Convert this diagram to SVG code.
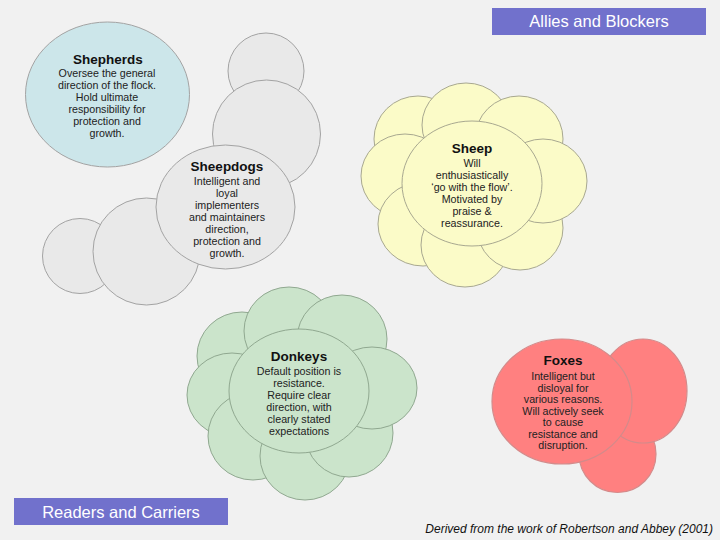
<svg xmlns="http://www.w3.org/2000/svg" width="720" height="540" viewBox="0 0 720 540">
<style>
.bg{fill:#f1f1f1}
.gray{fill:#e9e9e9;stroke:#a3a3a3;stroke-width:1}
.blue{fill:#cce6ea;stroke:#a3a3a3;stroke-width:1}
.yel{fill:#fbfbc8;stroke:#a8a890;stroke-width:1}
.grn{fill:#cbe4cb;stroke:#90a890;stroke-width:1}
.red{fill:#ff8080;stroke:#d48a8a;stroke-width:1.2}
.box{fill:#7171cc}
.ttl{font-family:"Liberation Sans",Arial,sans-serif;font-weight:bold;font-size:13.5px;fill:#111;text-anchor:middle}
.bd{font-family:"Liberation Sans",Arial,sans-serif;font-size:10.7px;fill:#222;text-anchor:middle}
.lbl{font-family:"Liberation Sans",Arial,sans-serif;font-size:16.5px;fill:#fff;text-anchor:middle}
.foot{font-family:"Liberation Sans",Arial,sans-serif;font-style:italic;font-size:12px;fill:#111;text-anchor:end}
</style>
<rect class="bg" x="0" y="0" width="720" height="540"/>
<g id="connectors"/>
<g id="allies">
<rect class="box" x="492" y="8" width="214" height="27"/>
<text class="lbl" x="599" y="27">Allies and Blockers</text>
</g>
<g id="readers">
<rect class="box" x="14" y="498" width="214" height="27"/>
<text class="lbl" x="121" y="518">Readers and Carriers</text>
</g>
<g id="shepherds">
<ellipse class="blue" cx="107.5" cy="94.5" rx="82" ry="72.5"/>
<text class="ttl" x="108" y="64">Shepherds</text>
<text class="bd"><tspan x="107" y="77">Oversee the general</tspan><tspan x="107" y="89">direction of the flock.</tspan><tspan x="107" y="101">Hold ultimate</tspan><tspan x="107" y="113">responsibility for</tspan><tspan x="107" y="125">protection and</tspan><tspan x="107" y="137">growth.</tspan></text>
</g>
<g id="sheepdogs">
<circle class="gray" cx="266" cy="71" r="38"/>
<circle class="gray" cx="266.5" cy="134" r="54"/>
<circle class="gray" cx="80" cy="256" r="37.5"/>
<circle class="gray" cx="146.5" cy="251.5" r="53.5"/>
<ellipse class="gray" cx="225.5" cy="207" rx="69.5" ry="62"/>
<text class="ttl" x="227" y="171">Sheepdogs</text>
<text class="bd"><tspan x="227" y="185">Intelligent and</tspan><tspan x="227" y="197">loyal</tspan><tspan x="227" y="209">implementers</tspan><tspan x="227" y="221">and maintainers</tspan><tspan x="227" y="233">direction,</tspan><tspan x="227" y="245">protection and</tspan><tspan x="227" y="257">growth.</tspan></text>
</g>
<g id="sheep">
<ellipse class="yel" cx="418" cy="139" rx="44" ry="43"/>
<ellipse class="yel" cx="405" cy="176" rx="44" ry="42"/>
<ellipse class="yel" cx="423" cy="224" rx="45" ry="42"/>
<ellipse class="yel" cx="465" cy="245" rx="44" ry="42"/>
<ellipse class="yel" cx="520" cy="228" rx="43" ry="42"/>
<ellipse class="yel" cx="466" cy="125" rx="44" ry="42"/>
<ellipse class="yel" cx="519" cy="139" rx="44" ry="43"/>
<ellipse class="yel" cx="543" cy="181" rx="44" ry="42"/>
<ellipse class="yel" cx="472" cy="183.5" rx="70" ry="62.5"/>
<text class="ttl" x="472" y="153">Sheep</text>
<text class="bd"><tspan x="472" y="167">Will</tspan><tspan x="472" y="179">enthusiastically</tspan><tspan x="472" y="191">‘go with the flow’.</tspan><tspan x="472" y="203">Motivated by</tspan><tspan x="472" y="215">praise &amp;</tspan><tspan x="472" y="227">reassurance.</tspan></text>
</g>
<g id="donkeys">
<ellipse class="grn" cx="242" cy="356" rx="45" ry="44"/>
<ellipse class="grn" cx="232" cy="395" rx="45" ry="42"/>
<ellipse class="grn" cx="253" cy="436" rx="45" ry="44"/>
<ellipse class="grn" cx="305" cy="456" rx="45" ry="44"/>
<ellipse class="grn" cx="349" cy="433" rx="44" ry="44"/>
<ellipse class="grn" cx="289" cy="331" rx="45" ry="44"/>
<ellipse class="grn" cx="342" cy="339" rx="45" ry="44"/>
<ellipse class="grn" cx="372" cy="388" rx="45" ry="41"/>
<ellipse class="grn" cx="299" cy="391" rx="70" ry="62"/>
<text class="ttl" x="299" y="361">Donkeys</text>
<text class="bd"><tspan x="299" y="375">Default position is</tspan><tspan x="299" y="387">resistance.</tspan><tspan x="299" y="399">Require clear</tspan><tspan x="299" y="411">direction, with</tspan><tspan x="299" y="423">clearly stated</tspan><tspan x="299" y="435">expectations</tspan></text>
</g>
<g id="foxes">
<circle class="red" cx="617.5" cy="454" r="38.5"/>
<ellipse class="red" cx="643" cy="391" rx="44" ry="52"/>
<ellipse class="red" cx="562" cy="401.5" rx="70" ry="62.5"/>
<text class="ttl" x="563" y="365">Foxes</text>
<text class="bd"><tspan x="563" y="380">Intelligent but</tspan><tspan x="563" y="391.5">disloyal for</tspan><tspan x="563" y="403">various reasons.</tspan><tspan x="563" y="414.5">Will actively seek</tspan><tspan x="563" y="426">to cause</tspan><tspan x="563" y="437.5">resistance and</tspan><tspan x="563" y="449">disruption.</tspan></text>
</g>
<g id="footer">
<text class="foot" x="713" y="533">Derived from the work of Robertson and Abbey (2001)</text>
</g>
</svg>
